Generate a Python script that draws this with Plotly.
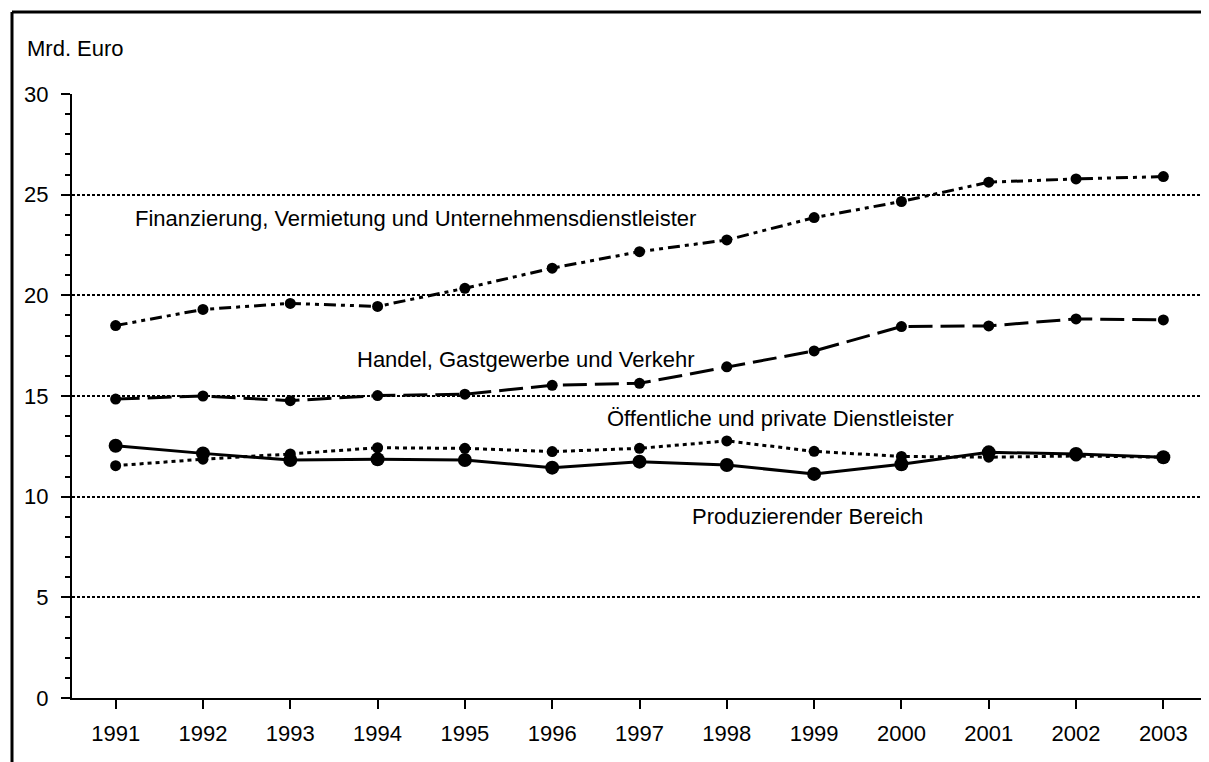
import plotly.graph_objects as go

# ── Data (Mrd. Euro) ──────────────────────────────────────────────────────────
years = list(range(1991, 2004))

finanzierung = [18.5, 19.3, 19.6, 19.45, 20.35, 21.35, 22.17, 22.75, 23.86, 24.66, 25.62, 25.78, 25.9]
handel       = [14.85, 15.0, 14.77, 15.02, 15.09, 15.53, 15.63, 16.45, 17.24, 18.45, 18.48, 18.83, 18.78]
oeffentlich  = [11.54, 11.86, 12.12, 12.43, 12.4, 12.24, 12.4, 12.77, 12.25, 12.0, 11.96, 12.02, 11.96]
produzierend = [12.53, 12.15, 11.82, 11.86, 11.82, 11.44, 11.74, 11.57, 11.13, 11.61, 12.2, 12.12, 11.96]

series_labels = [
    "Finanzierung, Vermietung und Unternehmensdienstleister",
    "Handel, Gastgewerbe und Verkehr",
    "Öffentliche und private Dienstleister",
    "Produzierender Bereich",
]
y_title = "Mrd. Euro"

FONT = "Liberation Sans, Arial, sans-serif"
FS = 22

# page body has an 8px margin, so the figure is a bit smaller than the window
OFF = 8
W, H = 1209 - OFF, 762 - OFF
M = dict(l=72 - OFF, r=2, t=94 - OFF, b=64)

fig = go.Figure()

styles = [
    (finanzierung, "12px,5px,4px,5px,4px,5px", 11),
    (handel,       "24px,8px", 11),
    (oeffentlich,  "4px,4px", 11),
    (produzierend, "solid", 14),
]
for vals, dash, msize in styles:
    fig.add_trace(go.Scatter(
        x=years, y=vals, mode="lines+markers",
        line=dict(color="black", width=3, dash=dash),
        marker=dict(color="black", size=msize),
        showlegend=False,
    ))

# label positions (data coords)
label_pos = [(1991.2, 23.8), (1993.74, 16.8), (1996.6, 13.86), (1997.58, 9.0)]
for text, (lx, ly) in zip(series_labels, label_pos):
    fig.add_annotation(x=lx, y=ly, xref="x", yref="y", text=text,
                       showarrow=False, xanchor="left", yanchor="middle",
                       font=dict(family=FONT, size=FS, color="black"))

pw = W - M["l"] - M["r"]
ph = H - M["t"] - M["b"]

def px_x(p):
    # p given in window pixels
    return (p - OFF - M["l"]) / pw

def px_y(p):
    return (H - M["b"] - (p - OFF)) / ph

fig.add_annotation(x=px_x(25), y=px_y(49), xref="paper", yref="paper", text=y_title,
                   showarrow=False, xanchor="left", yanchor="middle",
                   font=dict(family=FONT, size=FS, color="black"))

# outer frame (left and top edges visible)
fig.add_shape(type="line", xref="paper", yref="paper",
              x0=px_x(12), x1=px_x(12), y0=px_y(12), y1=px_y(800),
              line=dict(color="black", width=3))
fig.add_shape(type="line", xref="paper", yref="paper",
              x0=px_x(12), x1=px_x(1240), y0=px_y(12), y1=px_y(12),
              line=dict(color="black", width=3))

fig.update_layout(
    width=W, height=H,
    margin=M,
    paper_bgcolor="white",
    plot_bgcolor="white",
    font=dict(family=FONT, size=FS, color="black"),
    xaxis=dict(
        range=[1990.5, 2003.5],
        tickvals=years,
        ticks="outside", ticklen=9, tickwidth=2, tickcolor="black",
        showline=True, linewidth=2, linecolor="black",
        showgrid=False, zeroline=False,
        ticklabelstandoff=6,
    ),
    yaxis=dict(
        range=[0, 30], dtick=5,
        ticks="outside", ticklen=9, tickwidth=2, tickcolor="black",
        showline=True, linewidth=2, linecolor="black",
        showgrid=True, gridcolor="black", gridwidth=2, griddash="3px,2px",
        zeroline=False,
        ticklabelstandoff=8,
        minor=dict(dtick=1, ticks="outside", ticklen=5, tickwidth=2,
                   tickcolor="black", showgrid=False),
    ),
)

fig.write_html("out.html")
